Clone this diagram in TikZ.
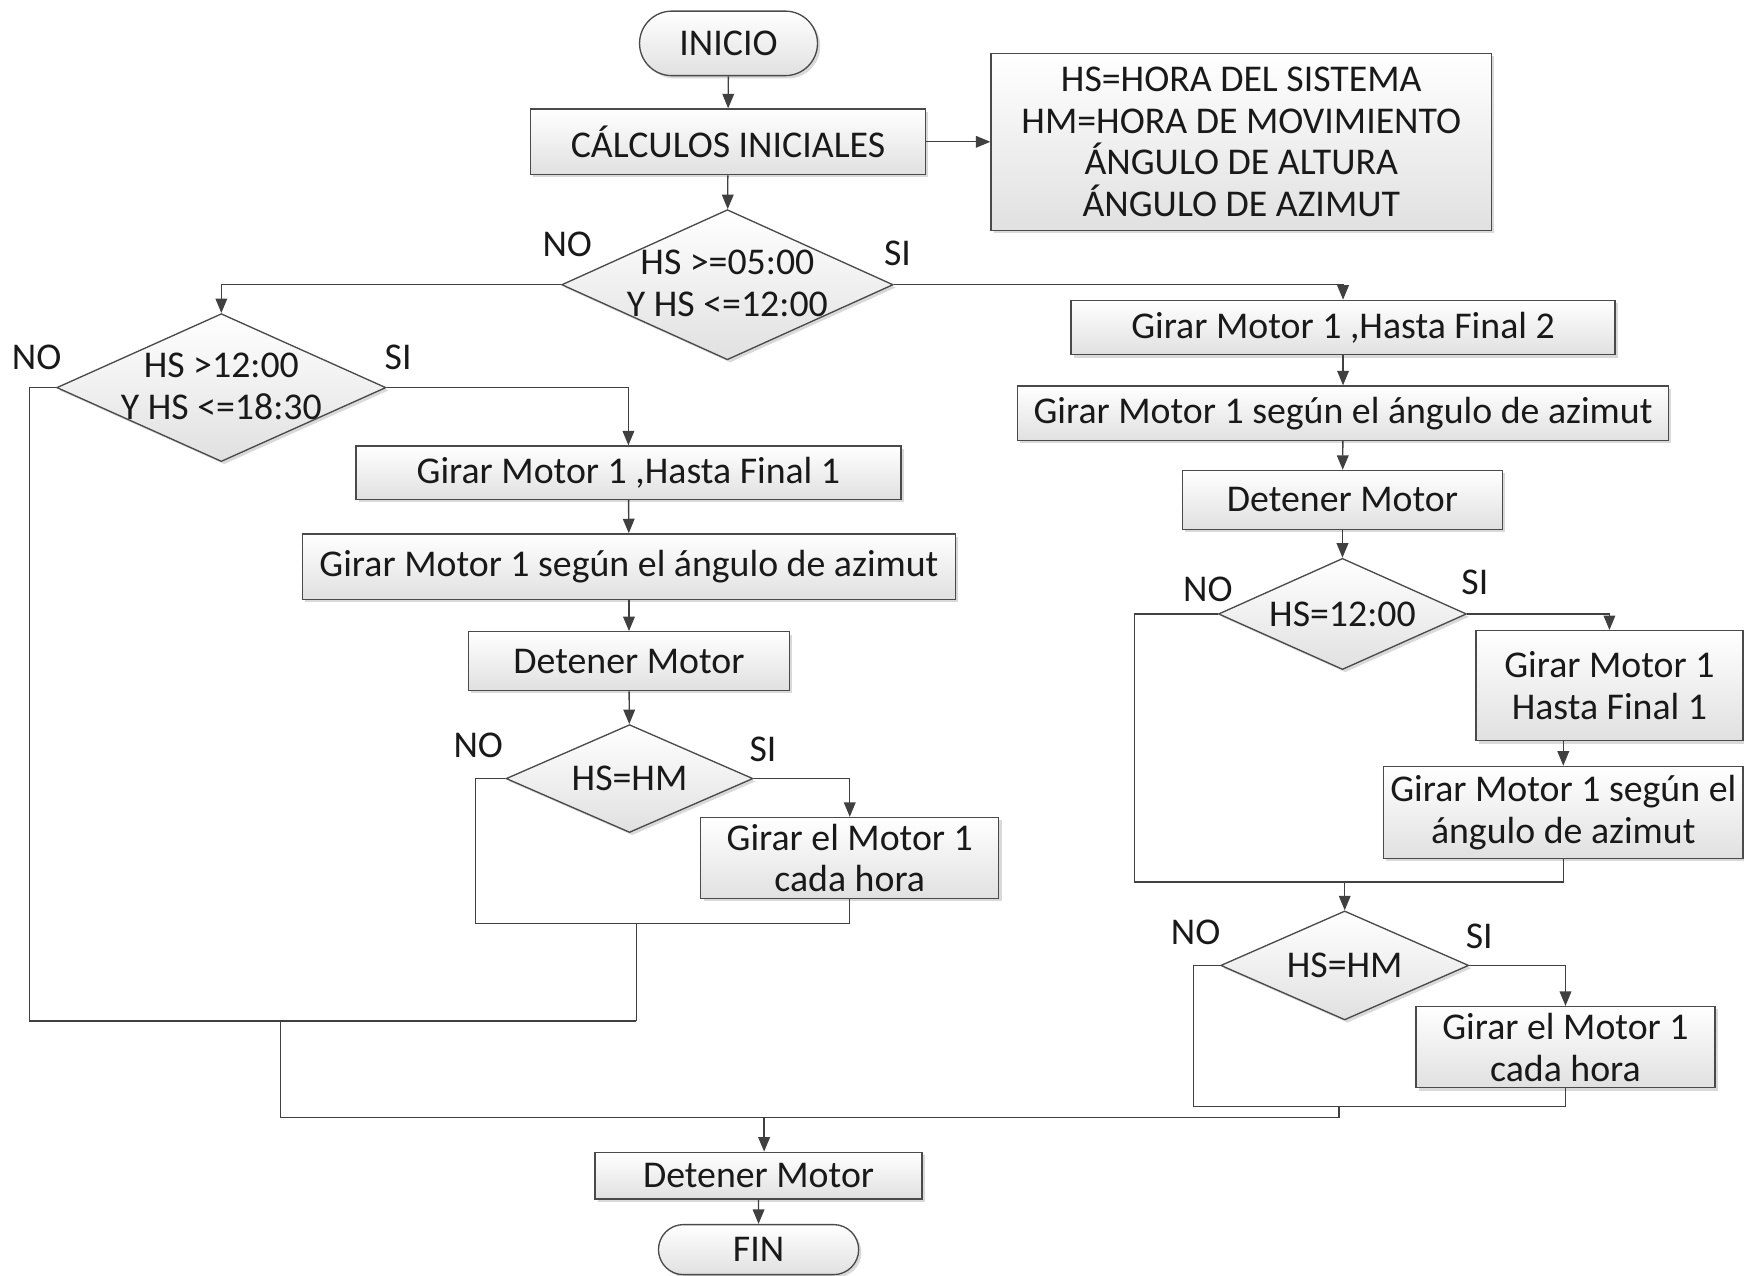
\documentclass[tikz,border=0pt]{standalone}
\usepackage{fontspec}
\setmainfont{Carlito}
\usetikzlibrary{arrows.meta,shapes.geometric,shapes.misc,shadows}
\definecolor{ln}{HTML}{404040}
\definecolor{bd}{HTML}{4A4A4A}
\begin{document}
\begin{tikzpicture}[x=1pt,y=-1pt,
  font=\fontsize{34}{37.5}\selectfont,
  base/.style={draw=bd, line width=1.2pt, top color=white, bottom color=black!12,
    drop shadow={shadow xshift=2.5pt,shadow yshift=-2.5pt,opacity=0.3},
    inner sep=0pt, align=center, text=black!90},
  box/.style={base, rectangle},
  pill/.style={base, rounded rectangle},
  dia/.style={base, diamond},
  lab/.style={inner sep=0pt, align=center, text=black!90},
  con/.style={draw=ln, line width=1.2pt},
  arr/.style={con, -{Triangle[length=13pt,width=10.5pt]}},
]
\useasboundingbox (0,0) rectangle (1568,1147);

% top
\node[pill, minimum width=160, minimum height=58] (ini) at (655,39) {INICIO};
\node[box, minimum width=355, minimum height=59] (calc) at (654.5,127.5) {CÁLCULOS INICIALES};
\node[box, minimum width=450, minimum height=159] (info) at (1116,127.5)
  {HS=HORA DEL SISTEMA\\HM=HORA DE MOVIMIENTO\\ÁNGULO DE ALTURA\\ÁNGULO DE AZIMUT};
\node[dia, minimum width=298, minimum height=135] (d1) at (654,256) {};
\node[lab] (d1t) at (654,255) {HS >=05:00\\Y HS <=12:00};
\node[lab] (d1no) at (510,220) {NO};
\node[lab] (d1si) at (807,228) {SI};

% left branch
\node[dia, minimum width=296, minimum height=133] (d2) at (199,348.5) {};
\node[lab] (d2t) at (199,347.5) {HS >12:00\\Y HS <=18:30};
\node[lab] (d2no) at (33,321) {NO};
\node[lab] (d2si) at (358,321) {SI};
\node[box, minimum width=490, minimum height=48] (l1) at (565,425) {Girar Motor 1 ,Hasta Final 1};
\node[box, minimum width=587, minimum height=59] (l2) at (565.5,509.5) {Girar Motor 1 según el ángulo de azimut};
\node[box, minimum width=289, minimum height=53] (l3) at (565.5,594.5) {Detener Motor};
\node[dia, minimum width=222, minimum height=97] (l4) at (566,700) {};
\node[lab] (l4t) at (566,700) {HS=HM};
\node[lab] (l4no) at (430,670) {NO};
\node[lab] (l4si) at (686,674) {SI};
\node[box, minimum width=268, minimum height=73] (l5) at (764,771.5) {Girar el Motor 1\\cada hora};

% right branch
\node[box, minimum width=489, minimum height=49] (r1) at (1207.5,294.5) {Girar Motor 1 ,Hasta Final 2};
\node[box, minimum width=585, minimum height=49] (r2) at (1207.5,371.5) {Girar Motor 1 según el ángulo de azimut};
\node[box, minimum width=288, minimum height=53] (r3) at (1207,449.5) {Detener Motor};
\node[dia, minimum width=223, minimum height=100] (r4) at (1207,552) {};
\node[lab] (r4t) at (1207,552) {HS=12:00};
\node[lab] (r4no) at (1086,530) {NO};
\node[lab] (r4si) at (1326,524) {SI};
\node[box, minimum width=240, minimum height=99] (r5) at (1447,616.5) {Girar Motor 1\\Hasta Final 1};
\node[box, minimum width=323, minimum height=83] (r6) at (1405.5,730.5) {Girar Motor 1 según el\\ángulo de azimut};
\node[dia, minimum width=223, minimum height=98] (r7) at (1209,868) {};
\node[lab] (r7t) at (1209,868) {HS=HM};
\node[lab] (r7no) at (1075,838) {NO};
\node[lab] (r7si) at (1330,842) {SI};
\node[box, minimum width=269, minimum height=73] (r8) at (1407.5,941.5) {Girar el Motor 1\\cada hora};

% bottom
\node[box, minimum width=294, minimum height=42] (b1) at (682,1057) {Detener Motor};
\node[pill, minimum width=180, minimum height=45] (fin) at (682,1123.5) {FIN};

% junction coordinates
\coordinate (m1) at (572,830);
\coordinate (m2) at (572,918);
\coordinate (m3) at (252,918);
\coordinate (m4) at (1204,995);
\coordinate (bj) at (687,1005);
\coordinate (rj) at (1209,793);

% connectors top
\draw[arr] (ini) -- (calc);
\draw[arr] (calc) -- (info);
\draw[arr] (calc) -- (d1);
\draw[arr] (d1.west) -| (d2.north);
\draw[arr] (d1.east) -| (r1.north);

% left
\draw[arr] (d2.east) -| (l1.north);
\draw[arr] (l1) -- (l2);
\draw[arr] (l2) -- (l3);
\draw[arr] (l3) -- (l4);
\draw[arr] (l4.east) -| (l5.north);
\draw[con] (l4.west) -- ++(-27,0) |- (l5.south |- m1) -- (l5.south);
\draw[con] (m1) -- (m2);
\draw[con] (d2.west) -- ++(-24,0) |- (m2);

% right
\draw[arr] (r1) -- (r2);
\draw[arr] (r2) -- (r3);
\draw[arr] (r3) -- (r4);
\draw[arr] (r4.east) -| (r5.north);
\draw[arr] (r6.north |- r5.south) -- (r6.north);
\draw[con] (r4.west) -- ++(-75,0) |- (r6.south |- rj) -- (r6.south);
\draw[arr] (rj) -- (r7.north);
\draw[arr] (r7.east) -| (r8.north);
\draw[con] (r7.west) -- ++(-24,0) |- (r8.south |- m4) -- (r8.south);

% bottom merge
\draw[con] (m3) |- (m4 |- bj) -- (m4);
\draw[arr] (bj) -- (bj |- b1.north);
\draw[arr] (b1) -- (fin);
\end{tikzpicture}
\end{document}
